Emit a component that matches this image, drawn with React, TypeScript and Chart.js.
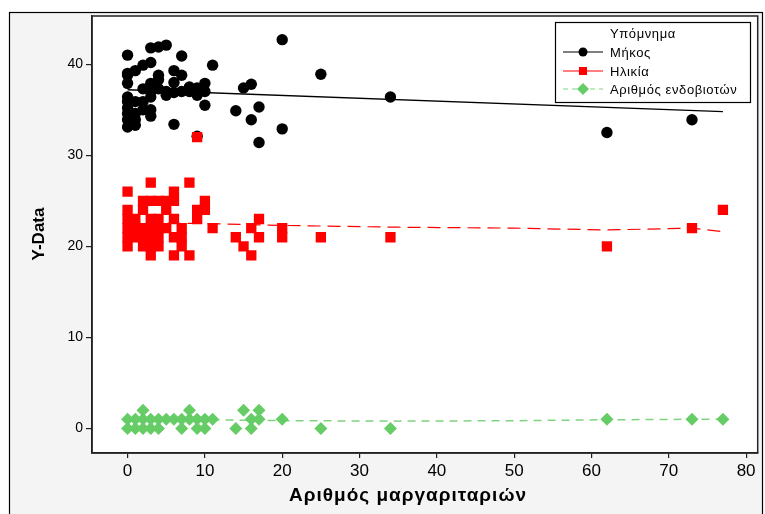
import React, { useEffect, useRef } from "react";
import { Chart, registerables } from "chart.js";

Chart.register(...registerables);

// ---- data ----
const xTicks = [0, 10, 20, 30, 40, 50, 60, 70, 80];
const yTicks = [0, 10, 20, 30, 40];

const seriesNames = ["Μήκος", "Ηλικία", "Αριθμός ενδοβιοτών"];

const lengthX = [0, 0, 0, 0, 0, 0, 0, 0, 0, 0, 1, 1, 1, 1, 1, 2, 2, 2, 2, 3, 3, 3, 3, 3, 3, 3, 4, 4, 4, 4, 5, 5, 5, 6, 6, 6, 6, 7, 7, 7, 8, 8, 9, 9, 9, 10, 10, 10, 11, 14, 15, 16, 16, 17, 17, 20, 20, 25, 34, 62, 73];
const lengthY = [41, 39, 38.8, 37.9, 36.4, 35.9, 35.2, 34.6, 33.9, 33.1, 39.3, 35.9, 34.6, 33.9, 33.3, 39.9, 37.3, 35.9, 35.0, 41.8, 40.2, 37.9, 36.4, 35.0, 34.3, 37.0, 41.9, 38.8, 38.3, 37.3, 42.1, 36.6, 37.0, 39.3, 38.0, 36.9, 33.4, 40.9, 38.8, 37.0, 37.5, 37.0, 37.4, 36.6, 32.1, 37.9, 35.5, 37.0, 39.9, 34.9, 37.4, 37.8, 33.9, 35.3, 31.4, 42.7, 32.9, 38.9, 36.4, 32.5, 33.9];

const ageX = [0, 0, 0, 0, 0, 0, 1, 1, 1, 2, 2, 2, 2, 2, 3, 3, 3, 3, 3, 3, 3, 4, 4, 4, 4, 4, 5, 5, 5, 6, 6, 6, 6, 6, 7, 7, 7, 8, 8, 9, 9, 9, 10, 10, 11, 14, 15, 16, 16, 17, 17, 20, 20, 25, 34, 62, 73, 77];
const ageY = [26, 24, 23, 22, 21, 20, 23, 22, 21, 25, 24, 22, 21, 20, 27, 25, 23, 22, 21, 20, 19, 25, 23, 22, 21, 20, 25, 24, 22, 26, 25, 23, 21, 19, 22, 21, 20, 27, 19, 32, 24, 23, 25, 24, 22, 21, 20, 22, 19, 23, 21, 22, 21, 21, 21, 20, 22, 24];

const endoX = [0, 1, 2, 3, 4, 5, 6, 7, 8, 9, 10, 11, 16, 17, 20, 62, 73, 77, 0, 1, 2, 3, 4, 7, 9, 10, 14, 16, 25, 34, 2, 8, 15, 17];
const endoY = [1, 1, 1, 1, 1, 1, 1, 1, 1, 1, 1, 1, 1, 1, 1, 1, 1, 1, 0, 0, 0, 0, 0, 0, 0, 0, 0, 0, 0, 0, 2, 2, 2, 2];

const lengthFitX = [0, 77];
const lengthFitY = [37.2, 34.8];
const ageFitX = [0, 10, 20, 35, 50, 62, 73, 77];
const ageFitY = [22.6, 22.5, 22.3, 22.1, 22.0, 21.8, 22.0, 21.6];
const endoFitX = [0, 10, 20, 35, 50, 62, 73, 77];
const endoFitY = [0.95, 0.95, 0.85, 0.8, 0.85, 0.95, 1.0, 1.0];

const xTitle = "Αριθμός μαργαριταριών";
const yTitle = "Y-Data";
const legendTitle = "Υπόμνημα";

const pts = (xs: number[], ys: number[]) => xs.map((x, i) => ({ x, y: ys[i] }));

const BLACK = "#000000";
const RED = "#ff0000";
const GREEN = "#66cc66";
const GREEN_LINE = "#80d480";

const framePlugin = {
  id: "frame",
  beforeDraw(chart: any) {
    const { ctx, width, height, chartArea } = chart;
    ctx.save();
    ctx.fillStyle = "#ffffff";
    ctx.fillRect(0, 0, width, height);
    ctx.fillStyle = "#f4f4f4";
    ctx.fillRect(10, 13, 752, height);
    ctx.strokeStyle = "#000";
    ctx.lineWidth = 1.2;
    ctx.strokeRect(9.5, 12.5, 753, height + 10);
    ctx.fillStyle = "#ffffff";
    ctx.fillRect(chartArea.left, chartArea.top, chartArea.right - chartArea.left, chartArea.bottom - chartArea.top);
    ctx.restore();
  },
  afterDraw(chart: any) {
    const { ctx, chartArea } = chart;
    ctx.save();
    ctx.strokeStyle = "#222";
    ctx.lineWidth = 1.5;
    ctx.strokeRect(chartArea.left, chartArea.top, chartArea.right - chartArea.left, chartArea.bottom - chartArea.top);

    // axis titles
    ctx.fillStyle = "#000";
    ctx.font = "bold 19px 'Liberation Sans', Arial, sans-serif";
    (ctx as any).letterSpacing = "1px";
    ctx.textAlign = "center";
    ctx.textBaseline = "middle";
    ctx.fillText(xTitle, 408, 496);
    (ctx as any).letterSpacing = "0px";
    ctx.save();
    ctx.translate(39, 234);
    ctx.rotate(-Math.PI / 2);
    ctx.font = "bold 17px 'Liberation Sans', Arial, sans-serif";
    ctx.fillText(yTitle, 0, 0);
    ctx.restore();

    // legend
    const bx = 555.5, by = 22.5, bw = 195, bh = 80;
    ctx.fillStyle = "#fff";
    ctx.fillRect(bx, by, bw, bh);
    ctx.strokeStyle = "#000";
    ctx.lineWidth = 1.2;
    ctx.strokeRect(bx, by, bw, bh);
    ctx.fillStyle = "#000";
    ctx.font = "13px 'Liberation Sans', Arial, sans-serif";
    (ctx as any).letterSpacing = "0.6px";
    ctx.textAlign = "left";
    ctx.textBaseline = "middle";
    ctx.fillText(legendTitle, 610, 34);
    const rows = [52, 71, 89];
    const colors = [BLACK, RED, GREEN];
    const lineColors = [BLACK, RED, GREEN_LINE];
    const dashes = [[], [], [5, 4]];
    rows.forEach((ry, i) => {
      ctx.save();
      ctx.strokeStyle = lineColors[i];
      ctx.lineWidth = 1.2;
      ctx.setLineDash(dashes[i]);
      ctx.beginPath();
      ctx.moveTo(563, ry);
      ctx.lineTo(603, ry);
      ctx.stroke();
      ctx.restore();
      ctx.fillStyle = colors[i];
      ctx.beginPath();
      if (i === 0) {
        ctx.arc(583, ry, 4.5, 0, Math.PI * 2);
      } else if (i === 1) {
        ctx.rect(579, ry - 4, 8, 8);
      } else {
        ctx.moveTo(583, ry - 6);
        ctx.lineTo(589, ry);
        ctx.lineTo(583, ry + 6);
        ctx.lineTo(577, ry);
        ctx.closePath();
      }
      ctx.fill();
      ctx.fillStyle = "#000";
      ctx.fillText(seriesNames[i], 610, ry + 1);
    });
    (ctx as any).letterSpacing = "0px";
    ctx.restore();
  },
};

export default function App() {
  const ref = useRef<HTMLCanvasElement | null>(null);
  useEffect(() => {
    if (!ref.current) return;
    const chart = new Chart(ref.current, {
      type: "scatter",
      data: {
        datasets: [
          {
            label: seriesNames[1],
            data: pts(ageX, ageY),
            pointStyle: "rect",
            pointRadius: 7.3,
            backgroundColor: RED,
            borderWidth: 0,
            order: 0,
          } as any,
          {
            label: seriesNames[0],
            data: pts(lengthX, lengthY),
            pointStyle: "circle",
            pointRadius: 5.7,
            backgroundColor: BLACK,
            borderWidth: 0,
            order: 1,
          },
          {
            label: seriesNames[2],
            data: pts(endoX, endoY),
            pointStyle: "rectRot",
            pointRadius: 6.5,
            backgroundColor: GREEN,
            borderWidth: 0,
            order: 2,
          },
          {
            label: "fit1",
            data: pts(lengthFitX, lengthFitY),
            showLine: true,
            pointRadius: 0,
            borderColor: BLACK,
            borderWidth: 1.3,
            order: 5,
          },
          {
            label: "fit2",
            data: pts(ageFitX, ageFitY),
            showLine: true,
            pointRadius: 0,
            borderColor: RED,
            borderWidth: 1.2,
            borderDash: [13, 7],
            order: 5,
          },
          {
            label: "fit3",
            data: pts(endoFitX, endoFitY),
            showLine: true,
            pointRadius: 0,
            borderColor: GREEN_LINE,
            borderWidth: 1.5,
            borderDash: [8, 6],
            order: 5,
          },
        ],
      },
      options: {
        animation: false,
        responsive: false,
        devicePixelRatio: 1,
        layout: { padding: { top: 16, right: 5, left: 0, bottom: 0 } },
        plugins: { legend: { display: false }, tooltip: { enabled: false }, title: { display: false } },
        scales: {
          x: {
            type: "linear",
            min: -4.6,
            max: 81.5,
            afterBuildTicks: (s: any) => {
              s.ticks = xTicks.map((v) => ({ value: v }));
            },
            afterFit: (s: any) => {
              s.height = 61;
            },
            grid: { display: true, drawOnChartArea: false, drawTicks: true, tickLength: 5, color: "#222", lineWidth: 1.2 },
            border: { display: true, color: "#222", width: 1.5 },
            ticks: {
              autoSkip: false,
              maxRotation: 0,
              padding: 3,
              color: "#000",
              font: { family: "'Liberation Sans', Arial, sans-serif", size: 17 },
              callback: (v: any) => String(v),
            },
          },
          y: {
            type: "linear",
            min: -2.7,
            max: 45.3,
            afterBuildTicks: (s: any) => {
              s.ticks = yTicks.map((v) => ({ value: v }));
            },
            afterFit: (s: any) => {
              s.width = 92;
            },
            grid: { display: true, drawOnChartArea: false, drawTicks: true, tickLength: 6, color: "#222", lineWidth: 1.2 },
            border: { display: true, color: "#222", width: 1.5 },
            ticks: {
              autoSkip: false,
              padding: 3,
              color: "#000",
              font: { family: "'Liberation Sans', Arial, sans-serif", size: 14 },
              callback: (v: any) => String(v),
            },
          },
        },
      },
      plugins: [framePlugin],
    });
    return () => chart.destroy();
  }, []);
  return (
    <canvas
      ref={ref}
      width={765}
      height={514}
      style={{ position: "absolute", left: 0, top: 0, width: 765, height: 514, display: "block" }}
    />
  );
}
